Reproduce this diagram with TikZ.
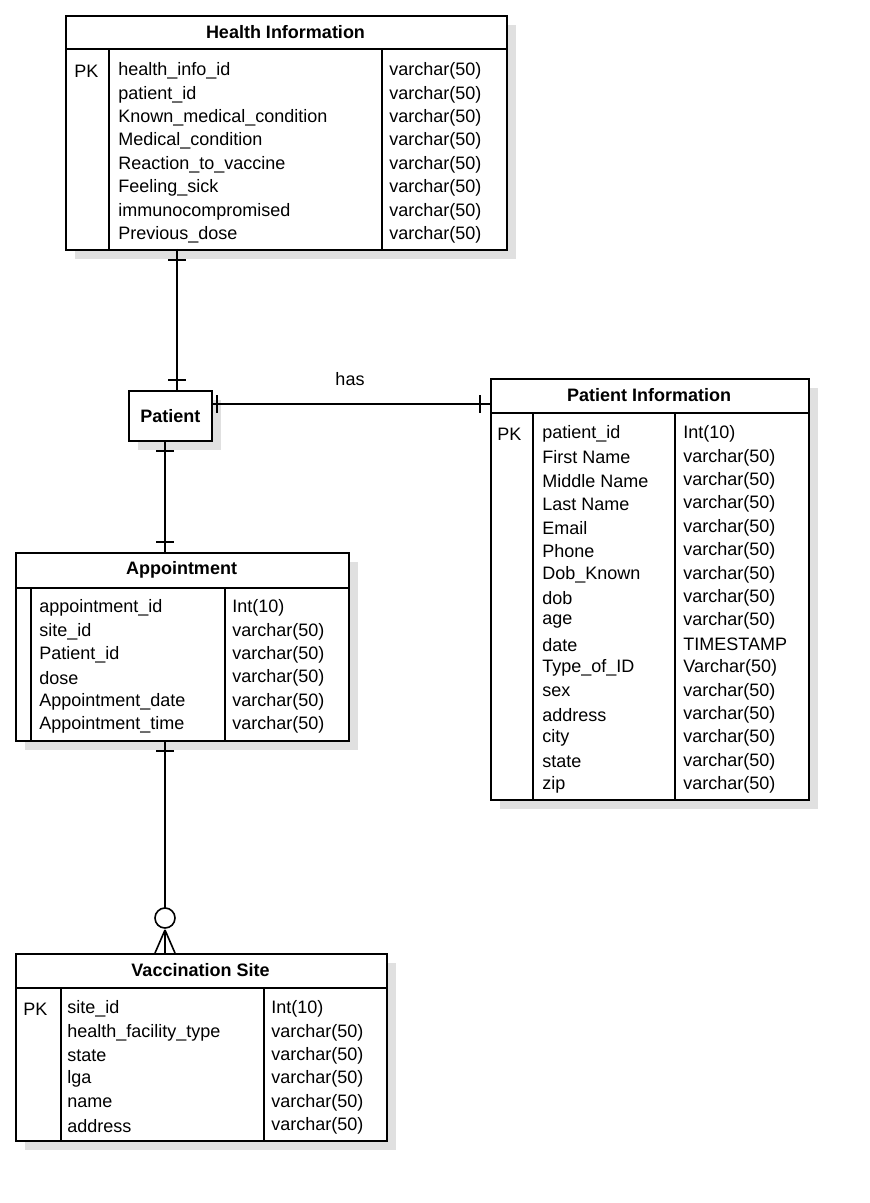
\documentclass[tikz,border=0pt]{standalone}
\usepackage{fontspec}
\setmainfont{Liberation Sans}
\usetikzlibrary{positioning,calc}
\tikzset{
    x=0.5pt,
    y=-0.5pt,
    table/.style = {
        draw,
        shape=rectangle,
        anchor=north west,
        inner sep=0pt,
        line width=0.8pt
    },
    shadow/.style = {
        fill=black!12,
        draw=none
    },
    cell/.style = {
        anchor=west,
        inner sep=0pt,
        font=\fontsize{9}{10}\selectfont
    },
    title/.style = {
        anchor=center,
        font=\fontsize{9}{10}\selectfont\bfseries
    },
    rel/.style = {
        draw,
        line width=0.8pt
    },
}

\begin{document}
\begin{tikzpicture}
            \useasboundingbox (0,0) rectangle (870,1203);

            % shadows
            \fill[shadow] (75,25) rectangle (516,259);
            \fill[shadow] (500,388) rectangle (818,809);
            \fill[shadow] (25,562) rectangle (358,750);
            \fill[shadow] (25,963) rectangle (396,1150);
            \fill[shadow] (138,400) rectangle (221,450);

            % tables
            \node[table, fill=white, minimum width=220.5pt, minimum height=117pt] (health) at (65,15) {};
            \node[table, fill=white, minimum width=41.5pt, minimum height=25pt] (patient) at (128,390) {};
            \node[title] at (patient.center) {Patient};
            \node[table, fill=white, minimum width=159pt, minimum height=210.5pt] (info) at (490,378) {};
            \node[table, fill=white, minimum width=166.5pt, minimum height=94pt] (appt) at (15,552) {};
            \node[table, fill=white, minimum width=185.5pt, minimum height=93.5pt] (site) at (15,953) {};

            % headers and columns
            \draw[line width=0.8pt] (65,49) -- (506,49) (109,49) -- (109,249) (382,49) -- (382,249);
            \draw[line width=0.8pt] (490,413) -- (808,413) (533,413) -- (533,799) (675,413) -- (675,799);
            \draw[line width=0.8pt] (15,588) -- (348,588) (31,588) -- (31,740) (225,588) -- (225,740);
            \draw[line width=0.8pt] (15,988) -- (386,988) (61,988) -- (61,1140) (264,988) -- (264,1140);

            \node[title] at (285.5,32) {Health Information};
            \node[title] at (649,395) {Patient Information};
            \node[title] at (181.5,570) {Appointment};
            \node[title] at (200.5,970) {Vaccination Site};

            \node[cell] at (74,71) {PK};
            \foreach \name/\kind [count=\i from 0] in {health\_info\_id/varchar(50), patient\_id/varchar(50),
                Known\_medical\_condition/varchar(50), Medical\_condition/varchar(50),
                Reaction\_to\_vaccine/varchar(50), Feeling\_sick/varchar(50),
                immunocompromised/varchar(50), Previous\_dose/varchar(50)} {
                \node[cell] at (118,71+23.4*\i) {\name};
                \node[cell] at (389,71+23.4*\i) {\kind};
            }

            \node[cell] at (497,434) {PK};
            \foreach \name/\kind [count=\i from 0] in {patient\_id/Int(10), First Name/varchar(50),
                Middle Name/varchar(50), Last Name/varchar(50), Email/varchar(50), Phone/varchar(50),
                Dob\_Known/varchar(50), dob/varchar(50), age/varchar(50), date/TIMESTAMP,
                Type\_of\_ID/Varchar(50), sex/varchar(50), address/varchar(50), city/varchar(50),
                state/varchar(50), zip/varchar(50)} {
                \node[cell] at (542,434+23.4*\i) {\name};
                \node[cell] at (683,434+23.4*\i) {\kind};
            }

            \foreach \name/\kind [count=\i from 0] in {appointment\_id/Int(10), site\_id/varchar(50),
                Patient\_id/varchar(50), dose/varchar(50), Appointment\_date/varchar(50),
                Appointment\_time/varchar(50)} {
                \node[cell] at (39,608+23.4*\i) {\name};
                \node[cell] at (232,608+23.4*\i) {\kind};
            }

            \node[cell] at (23,1009) {PK};
            \foreach \name/\kind [count=\i from 0] in {site\_id/Int(10), health\_facility\_type/varchar(50),
                state/varchar(50), lga/varchar(50), name/varchar(50), address/varchar(50)} {
                \node[cell] at (67,1009+23.4*\i) {\name};
                \node[cell] at (271,1009+23.4*\i) {\kind};
            }

            % relations
            \path[rel] (177,249) -- (177,390);
            \path[rel] (168,260) -- (186,260) (168,380) -- (186,380);
            \path[rel] (patient.east |- 0,404) -- (info.west |- 0,404);
            \path[rel] (217,395) -- (217,413) (480,395) -- (480,413);
            \node[cell, anchor=center] at (350,379) {has};
            \path[rel] (165,440) -- (165,552);
            \path[rel] (156,451) -- (174,451) (156,542) -- (174,542);
            \path[rel] (165,740) -- (165,908);
            \path[rel] (156,751) -- (174,751);
            \draw[line width=0.8pt, fill=white] (165,918) circle (5pt);
            \path[rel] (165,930) -- (165,953) (165,930) -- (155,953) (165,930) -- (175,953);
        \end{tikzpicture}
\end{document}
